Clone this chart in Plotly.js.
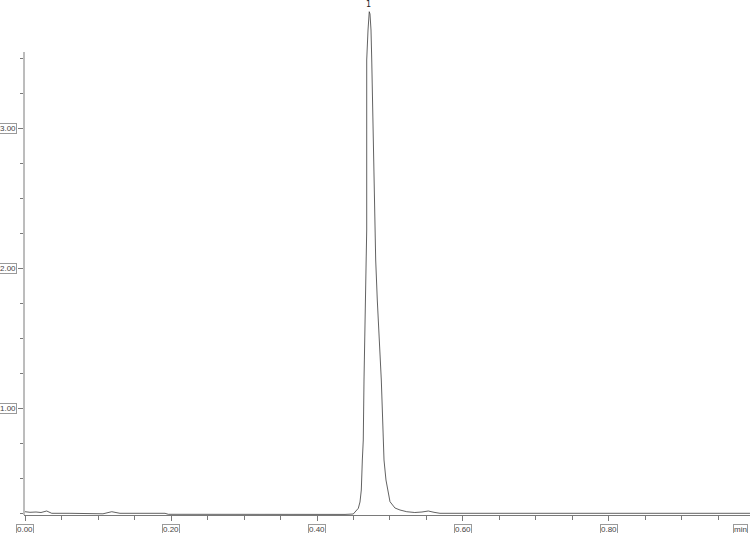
<!DOCTYPE html>
<html>
<head>
<meta charset="utf-8">
<script src="https://cdn.plot.ly/plotly-3.0.1.min.js"></script>
<style>
  html, body { margin: 0; padding: 0; background: #ffffff; }
  #chart { width: 750px; height: 533px; }
</style>
</head>
<body>
<div id="chart"></div>
<script>
// retention time (min) and detector signal
const TIME = [
  0, 0.0068, 0.0151, 0.0219, 0.0297, 0.0366, 0.0616, 0.089, 0.0986, 0.1068,
  0.1188, 0.1301, 0.1575, 0.1918, 0.1963, 0.2397, 0.3082, 0.3767, 0.4384, 0.4497,
  0.4534, 0.4566, 0.4589, 0.4607, 0.4621, 0.4634, 0.4644, 0.4662, 0.4681, 0.4681,
  0.4681, 0.4699, 0.4705, 0.4716, 0.4726, 0.474, 0.475, 0.4767, 0.4792, 0.4804,
  0.4826, 0.4856, 0.4881, 0.4895, 0.4904, 0.4918, 0.4945, 0.4973, 0.5, 0.5068,
  0.5137, 0.5229, 0.534, 0.5438, 0.5525, 0.5603, 0.5685, 0.6507, 0.7877, 0.9247,
  0.9932
];
const SIGNAL = [
  0.2614, 0.2571, 0.2593, 0.2557, 0.2664, 0.25, 0.25, 0.2486, 0.2429, 0.2464,
  0.2614, 0.25, 0.25, 0.25, 0.2429, 0.2421, 0.2421, 0.2421, 0.2421, 0.245,
  0.2629, 0.2857, 0.3307, 0.4164, 0.6307, 0.7736, 1.2021, 1.6307, 2.2736, 2.9879,
  3.4879, 3.7021, 3.8164, 3.8329, 3.8164, 3.7021, 3.4879, 2.9879, 2.4879, 2.0593,
  1.7736, 1.4879, 1.2021, 0.9879, 0.7736, 0.6307, 0.4879, 0.395, 0.3329, 0.2879,
  0.2736, 0.2614, 0.2557, 0.2593, 0.2664, 0.2571, 0.25, 0.25, 0.2493, 0.25,
  0.25
];

const PEAK_NAMES = ['1'];
const PEAK_TIMES = [0.4712];

const X_TICKS = [0, 0.2, 0.4, 0.6, 0.8];
const X_LABELS = ['0.00', '0.20', '0.40', '0.60', '0.80'];
const Y_TICKS = [1, 2, 3];
const Y_LABELS = ['1.00', '2.00', '3.00'];
const X_UNIT = 'min';

const X_RANGE = [-0.0014, 0.9932];
const Y_RANGE = [0.2379, 3.9164];
const Y_AXIS_TOP = 3.545;

const AXIS_COLOR = '#7a7a7a';
const LABEL_FONT = { family: 'Liberation Sans, DejaVu Sans, sans-serif', size: 8, color: '#444444' };

// minor y ticks every 0.25 up to where the axis line stops
const yMinor = [];
for (let v = 0.25; v <= Y_AXIS_TOP + 1e-9; v += 0.25) {
  yMinor.push(Math.round(v * 100) / 100);
}

const trace = {
  x: TIME,
  y: SIGNAL,
  type: 'scatter',
  mode: 'lines',
  line: { color: '#3a3a3a', width: 0.8 },
  hoverinfo: 'skip'
};

const annotations = [];

X_TICKS.forEach((t, i) => {
  annotations.push({
    x: t, xref: 'x', y: 0, yref: 'paper',
    yanchor: 'middle', xanchor: 'center', yshift: -14,
    text: X_LABELS[i], showarrow: false,
    font: LABEL_FONT, bordercolor: '#9a9a9a', borderwidth: 1, borderpad: 0
  });
});

annotations.push({
  x: 1, xref: 'paper', y: 0, yref: 'paper',
  yanchor: 'middle', xanchor: 'right', xshift: -2, yshift: -14,
  text: X_UNIT, showarrow: false,
  font: LABEL_FONT, bordercolor: '#9a9a9a', borderwidth: 1, borderpad: 0
});

Y_TICKS.forEach((v, i) => {
  annotations.push({
    x: 0, xref: 'paper', y: v, yref: 'y',
    xanchor: 'right', yanchor: 'middle', xshift: -7,
    text: Y_LABELS[i], showarrow: false,
    font: LABEL_FONT, bordercolor: '#9a9a9a', borderwidth: 1, borderpad: 0
  });
});

PEAK_TIMES.forEach((t, i) => {
  annotations.push({
    x: t, xref: 'x', y: 1, yref: 'paper',
    xanchor: 'center', yanchor: 'top', yshift: 2,
    text: PEAK_NAMES[i], showarrow: false,
    font: { family: 'DejaVu Sans, sans-serif', size: 8, color: '#222222' }
  });
});

const layout = {
  width: 750,
  height: 533,
  paper_bgcolor: '#ffffff',
  plot_bgcolor: '#ffffff',
  margin: { l: 24, r: 0, t: 0, b: 18 },
  showlegend: false,
  xaxis: {
    range: X_RANGE,
    showgrid: false,
    zeroline: false,
    showline: true,
    linecolor: AXIS_COLOR,
    linewidth: 1,
    ticks: 'outside',
    ticklen: 5,
    tickwidth: 1,
    tickcolor: AXIS_COLOR,
    tickmode: 'array',
    tickvals: X_TICKS,
    showticklabels: false,
    minor: { dtick: 0.05, tick0: 0, ticks: 'outside', ticklen: 4, tickcolor: AXIS_COLOR, showgrid: false }
  },
  yaxis: {
    range: Y_RANGE,
    showgrid: false,
    zeroline: false,
    showline: false,
    ticks: 'outside',
    ticklen: 5,
    tickwidth: 1,
    tickcolor: AXIS_COLOR,
    tickmode: 'array',
    tickvals: Y_TICKS,
    showticklabels: false,
    minor: { tickmode: 'array', tickvals: yMinor, ticks: 'outside', ticklen: 3, tickcolor: AXIS_COLOR, showgrid: false }
  },
  shapes: [{
    type: 'line',
    xref: 'paper', x0: 0, x1: 0,
    yref: 'y', y0: Y_RANGE[0], y1: Y_AXIS_TOP,
    line: { color: AXIS_COLOR, width: 1 }
  }],
  annotations: annotations
};

Plotly.newPlot('chart', [trace], layout, { displayModeBar: false, staticPlot: true });
</script>
</body>
</html>
